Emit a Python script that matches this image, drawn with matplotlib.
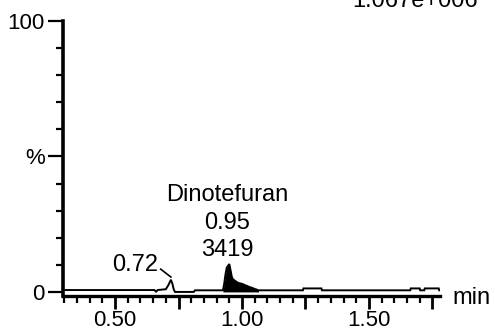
import matplotlib
matplotlib.use("Agg")
import matplotlib.pyplot as plt
from matplotlib.ticker import MultipleLocator, FuncFormatter

plt.rcParams['font.family'] = ['Liberation Sans', 'DejaVu Sans']

# Chromatogram trace: retention time (min) and relative intensity (%)
time_min = [0.295, 0.655, 0.662, 0.668, 0.700, 0.710, 0.720, 0.726, 0.731, 0.736,
            0.810, 0.815, 0.925, 0.930, 0.935, 0.940, 0.950, 0.955, 0.960, 0.965,
            0.970, 0.980, 0.990, 1.000, 1.010, 1.020, 1.030, 1.040, 1.050, 1.060,
            1.065, 1.240, 1.242, 1.313, 1.315, 1.663, 1.665, 1.700, 1.702, 1.718,
            1.720, 1.775, 1.777, 1.780]
intensity = [0.7, 0.7, 0.1, 0.7, 1.0, 2.5, 4.5, 3.0, 1.0, 0.0,
             0.0, 0.6, 0.6, 3.0, 6.5, 9.0, 10.3, 8.0, 5.5, 4.6,
             4.3, 3.6, 3.2, 3.0, 2.6, 2.2, 1.8, 1.5, 1.1, 0.8,
             0.6, 0.6, 1.3, 1.3, 0.6, 0.6, 1.3, 1.3, 0.6, 0.6,
             1.3, 1.3, 0.6, 0.6]

# Integrated peak window
peak_start, peak_end = 0.925, 1.065

compound = "Dinotefuran"
peak_rt = "0.95"
peak_area = "3419"
minor_rt = "0.72"
scale_label = "1.067e+006"

fig = plt.figure(figsize=(4.95, 3.33), dpi=100)
ax = fig.add_axes([63/495, 37/333, 377/495, 275/333])

ax.plot(time_min, intensity, color='black', lw=1.4, solid_joinstyle='miter')
seg = [(t, v) for t, v in zip(time_min, intensity) if peak_start <= t <= peak_end]
ax.fill_between([s[0] for s in seg], [s[1] for s in seg], 0, color='black', lw=0)

ax.set_xlim(0.295, 1.78)
ax.set_ylim(-1.5, 100)

for side in ('top', 'right'):
    ax.spines[side].set_visible(False)
ax.spines['left'].set_linewidth(2.6)
ax.spines['bottom'].set_linewidth(2.4)

ax.xaxis.set_major_locator(MultipleLocator(0.25))
ax.xaxis.set_minor_locator(MultipleLocator(0.05))
ax.xaxis.set_major_formatter(FuncFormatter(
    lambda v, p: f"{v:.2f}" if abs(v * 2 - round(v * 2)) < 1e-6 else ""))
ax.set_yticks([0, 50, 100])
ax.set_yticklabels(["0", "%", "100"])
ax.yaxis.set_minor_locator(MultipleLocator(10))

ax.tick_params(axis='x', which='major', length=9, width=2, pad=1, labelsize=16, direction='out')
ax.tick_params(axis='x', which='minor', length=5, width=1.6, direction='out')
ax.tick_params(axis='y', which='major', length=11, width=1.6, pad=2, labelsize=16, direction='out')
ax.tick_params(axis='y', which='minor', length=5, width=1.6, direction='out')

fs = 17
ax.text(0.941, 33.7, compound, ha='center', va='baseline', fontsize=fs)
ax.text(0.941, 23.4, peak_rt, ha='center', va='baseline', fontsize=fs)
ax.text(0.941, 13.2, peak_area, ha='center', va='baseline', fontsize=fs)
ax.text(0.668, 7.7, minor_rt, ha='right', va='baseline', fontsize=fs)
ax.plot([0.68, 0.72], [8.4, 5.5], color='black', lw=1.2)

fig.text(452/495, (333-304)/333, "min", ha='left', va='baseline', fontsize=fs)
fig.text(478/495, (333-7)/333, scale_label, ha='right', va='baseline', fontsize=fs)

fig.savefig("out.png", dpi=100)
